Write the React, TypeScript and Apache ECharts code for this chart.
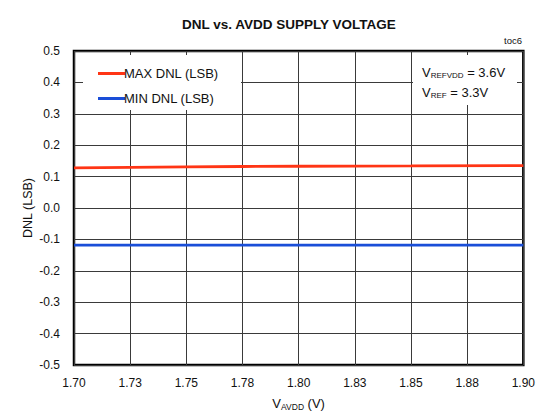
import React, { useEffect, useRef } from "react";
import * as echarts from "echarts";

const FONT = "'Liberation Sans', Arial, sans-serif";

const xTickLabels = ["1.70", "1.73", "1.75", "1.78", "1.80", "1.83", "1.85", "1.88", "1.90"];
const yTickLabels = ["-0.5", "-0.4", "-0.3", "-0.2", "-0.1", "0.0", "0.1", "0.2", "0.3", "0.4", "0.5"];

const avdd = [1.7, 1.75, 1.8, 1.85, 1.9];
const maxDnl = [0.128, 0.131, 0.133, 0.134, 0.135];
const minDnl = [-0.118, -0.118, -0.118, -0.118, -0.118];

const seriesNames = ["MAX DNL (LSB)", "MIN DNL (LSB)"];
const seriesColors = ["#ff3515", "#1a4ed8"];

export default function App() {
  const ref = useRef<HTMLDivElement>(null);
  useEffect(() => {
    document.body.style.margin = "0";
    const chart = echarts.init(ref.current!, null, { renderer: "svg" });
    const pair = (xs: number[], ys: number[]) => xs.map((x, i) => [x, ys[i]]);
    chart.setOption({
      animation: false,
      backgroundColor: "#fff",
      textStyle: { fontFamily: FONT },
      title: {
        text: "DNL vs. AVDD SUPPLY VOLTAGE",
        left: 177,
        top: 12,
        textStyle: { fontFamily: FONT, fontSize: 13.5, fontWeight: "bold", color: "#111" },
      },
      grid: {
        left: 74,
        top: 51,
        width: 450,
        height: 315,
        show: true,
        borderColor: "#000",
        borderWidth: 2.5,
        backgroundColor: "transparent",
      },
      legend: {
        orient: "vertical",
        left: 93,
        top: 62,
        itemWidth: 27,
        itemHeight: 3,
        itemGap: 12,
        icon: "rect",
        z: 20,
        data: seriesNames,
        textStyle: { fontFamily: FONT, fontSize: 13, color: "#111", padding: [0, 0, 0, -6] },
      },
      xAxis: {
        type: "value",
        min: 1.7,
        max: 1.9,
        interval: 0.025,
        name: "{v|V}{s|AVDD}{v| (V)}",
        nameLocation: "middle",
        nameGap: 31,
        nameTextStyle: {
          rich: {
            v: { fontFamily: FONT, fontSize: 13, color: "#111" },
            s: { fontFamily: FONT, fontSize: 8.5, color: "#111", verticalAlign: "bottom", padding: [6, 0, 0, 0] },
          },
        },
        axisLine: { show: false },
        axisTick: { show: false },
        axisLabel: {
          margin: 12,
          fontSize: 12,
          color: "#111",
          fontFamily: FONT,
          formatter: (v: number) => xTickLabels[Math.round((v - 1.7) / 0.025)] ?? "",
        },
        splitLine: { show: true, lineStyle: { color: "#3a3a3a", width: 1 } },
      },
      yAxis: {
        type: "value",
        min: -0.5,
        max: 0.5,
        interval: 0.1,
        name: "DNL (LSB)",
        nameLocation: "middle",
        nameGap: 40,
        nameMoveOverlap: false,
        nameTextStyle: { fontFamily: FONT, fontSize: 12.5, color: "#111" },
        axisLine: { show: false },
        axisTick: { show: false },
        axisLabel: {
          margin: 14,
          fontSize: 12,
          color: "#111",
          fontFamily: FONT,
          formatter: (v: number) => yTickLabels[Math.round((v + 0.5) / 0.1)] ?? "",
        },
        splitLine: { show: true, lineStyle: { color: "#3a3a3a", width: 1 } },
      },
      graphic: [
        {
          type: "rect",
          z: 5,
          shape: { x: 83, y: 55, width: 158, height: 55 },
          style: { fill: "#fff" },
        },
        {
          type: "rect",
          z: 5,
          shape: { x: 413, y: 55, width: 104, height: 50 },
          style: { fill: "#fff" },
        },
        {
          type: "text",
          z: 6,
          x: 422,
          y: 72,
          style: {
            text: "{v|V}{s|REFVDD}{v| = 3.6V}",
            verticalAlign: "middle",
            rich: {
              v: { fontFamily: FONT, fontSize: 13, fill: "#111" },
              s: { fontFamily: FONT, fontSize: 8, fill: "#111", padding: [7, 0, 0, 0] },
            },
          },
        },
        {
          type: "text",
          z: 6,
          x: 422,
          y: 92,
          style: {
            text: "{v|V}{s|REF}{v| = 3.3V}",
            verticalAlign: "middle",
            rich: {
              v: { fontFamily: FONT, fontSize: 13, fill: "#111" },
              s: { fontFamily: FONT, fontSize: 8, fill: "#111", padding: [7, 0, 0, 0] },
            },
          },
        },
        {
          type: "text",
          x: 522,
          y: 40,
          style: { text: "toc6", fontFamily: FONT, fontSize: 9.5, fill: "#111", align: "right", verticalAlign: "middle" },
        },
      ],
      series: [
        {
          name: seriesNames[0],
          type: "line",
          data: pair(avdd, maxDnl),
          showSymbol: false,
          smooth: true,
          color: seriesColors[0],
          lineStyle: { width: 2.8, color: seriesColors[0] },
        },
        {
          name: seriesNames[1],
          type: "line",
          data: pair(avdd, minDnl),
          showSymbol: false,
          color: seriesColors[1],
          lineStyle: { width: 2.8, color: seriesColors[1] },
        },
      ],
    });
    return () => chart.dispose();
  }, []);
  return <div ref={ref} style={{ width: 538, height: 416 }} />;
}
